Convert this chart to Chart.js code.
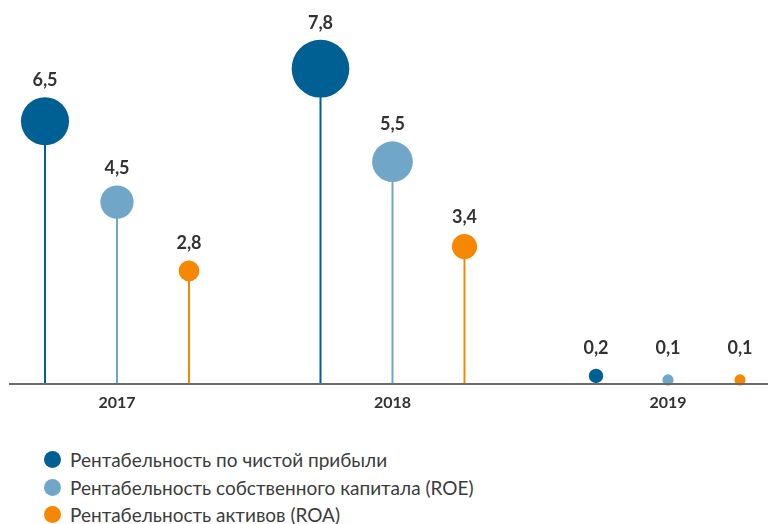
<!DOCTYPE html>
<html><head><meta charset="utf-8">
<script src="https://cdn.jsdelivr.net/npm/chart.js@4"></script>
<style>
html,body{margin:0;padding:0;background:#fff;width:768px;height:524px;overflow:hidden}
#wrap{position:relative;width:768px;height:432px}
#legend{position:absolute;left:44px;top:446px;font-family:Lato,sans-serif;font-size:19px;font-weight:400;color:#3c3c3c;}
#legend .it{display:flex;align-items:center;height:27.5px;white-space:nowrap}
#legend .dot{width:17px;height:17px;border-radius:50%;margin-right:9px;flex:none}
</style></head><body>
<div id="wrap"><canvas id="c" width="768" height="432"></canvas></div>
<div id="legend"></div>
<script>
const categories = ['2017','2018','2019'];
const seriesNames = ['Рентабельность по чистой прибыли','Рентабельность собственного капитала (ROE)','Рентабельность активов (ROA)'];
const netProfit = [6.5, 7.8, 0.2];
const roe = [4.5, 5.5, 0.1];
const roa = [2.8, 3.4, 0.1];
const colors = ['#006094','#70a6c7','#f58800'];
const allSeries = [netProfit, roe, roa];

function radiusFor(v){ return v < 1 ? 4 + 16*v : 3.7*v; }

const lollipopPlugin = {
  id:'lollipop',
  afterDatasetsDraw(chart){
    const ctx = chart.ctx;
    const base = chart.scales.y.getPixelForValue(0);
    chart.data.datasets.forEach((ds, di)=>{
      const meta = chart.getDatasetMeta(di);
      meta.data.forEach((bar, i)=>{
        const v = ds.data[i].y;
        const r = radiusFor(v);
        ctx.save();
        ctx.beginPath();
        ctx.arc(bar.x, bar.y, r, 0, Math.PI*2);
        ctx.fillStyle = ds.backgroundColor;
        ctx.fill();
        const ly = Math.min(bar.y - r - 17, base - 36);
        ctx.fillStyle = '#333';
        ctx.font = '700 18px Lato, sans-serif';
        ctx.textAlign = 'center';
        ctx.textBaseline = 'middle';
        ctx.fillText(String(v).replace('.', ','), bar.x, ly);
        ctx.restore();
      });
    });
    const area = chart.chartArea;
    ctx.save();
    ctx.strokeStyle = '#6b6b6b';
    ctx.lineWidth = 2;
    ctx.beginPath();
    ctx.moveTo(area.left, base);
    ctx.lineTo(area.right, base);
    ctx.stroke();
    ctx.restore();
  }
};

const datasets = allSeries.map((arr, si)=>({
  label: seriesNames[si],
  data: arr.map((v, i)=>({x:i, y:v})),
  backgroundColor: colors[si],
  borderWidth: 0,
  maxBarThickness: 2,
  categoryPercentage: 0.784,
  barPercentage: 1
}));

new Chart(document.getElementById('c'), {
  type:'bar',
  data:{ datasets },
  options:{
    responsive:false,
    animation:false,
    layout:{padding:{left:9,right:0,top:0,bottom:0}},
    plugins:{legend:{display:false},tooltip:{enabled:false}},
    scales:{
      x:{
        type:'linear',
        offset:false,
        min:-0.392, max:2.363,
        afterBuildTicks(scale){ scale.ticks = categories.map((c,i)=>({value:i})); },
        afterFit(scale){ scale.height = 48; },
        ticks:{
          callback:(v)=>categories[v],
          font:{family:'Lato, sans-serif', size:16, weight:'700'},
          color:'#333',
          padding:9,
          maxRotation:0,
          autoSkip:false
        },
        grid:{display:false, drawTicks:false},
        border:{display:false}
      },
      y:{
        display:false,
        min:0, max:9.5
      }
    }
  },
  plugins:[lollipopPlugin]
});

const leg = document.getElementById('legend');
seriesNames.forEach((n, i)=>{
  const d = document.createElement('div'); d.className='it';
  d.innerHTML = '<span class="dot" style="background:'+colors[i]+'"></span><span>'+n+'</span>';
  leg.appendChild(d);
});
</script>
</body></html>
